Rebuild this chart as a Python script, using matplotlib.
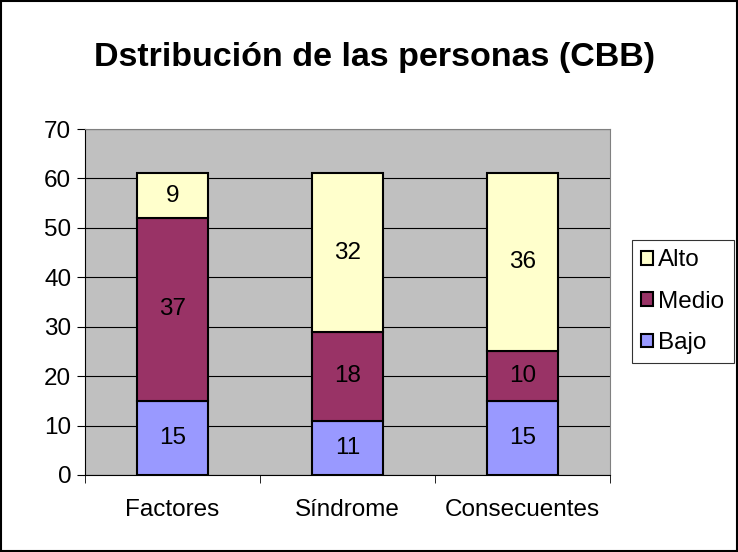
import matplotlib.pyplot as plt
from matplotlib.patches import Rectangle
import numpy as np

plt.rcParams['font.family'] = ['Liberation Sans', 'DejaVu Sans']

categorias = ['Factores', 'Síndrome', 'Consecuentes']
bajo = [15, 11, 15]
medio = [37, 18, 10]
alto = [9, 32, 36]
series = ['Bajo', 'Medio', 'Alto']
colores = ['#9999FF', '#993366', '#FFFFCC']

fig = plt.figure(figsize=(7.38, 5.52), dpi=100)
ax = fig.add_axes([0.1152, 0.1395, 0.7114, 0.6268])
ax.set_facecolor('#C0C0C0')

x = np.arange(len(categorias))
base = np.zeros(len(categorias))
barras = []
for nombre, vals, col in zip(series, [bajo, medio, alto], colores):
    b = ax.bar(x, vals, 0.41, bottom=base, color=col, edgecolor='black',
               linewidth=1.5, label=nombre, zorder=3)
    for xi, v, b0 in zip(x, vals, base):
        ax.text(xi, b0 + v / 2, str(v), ha='center', va='center',
                fontsize=17.5, zorder=4)
    base = base + np.array(vals)
    barras.append(b)

ax.set_xlim(-0.5, 2.5)
ax.set_ylim(0, 70)
ax.set_yticks(range(0, 71, 10))
ax.yaxis.grid(True, color='black', linewidth=0.8, zorder=0)
ax.tick_params(axis='y', direction='out', length=6, labelsize=17.5, pad=4)
ax.set_xticks(x)
ax.set_xticklabels(categorias, fontsize=17.5)
ax.tick_params(axis='x', length=0, pad=17)
ax.set_xticks([-0.5, 0.5, 1.5, 2.5], minor=True)
ax.tick_params(axis='x', which='minor', direction='out', length=6)

for s in ['top', 'right']:
    ax.spines[s].set_color('#808080')
for s in ['left', 'bottom']:
    ax.spines[s].set_color('black')

fig.text(0.508, 0.895, 'Dstribución de las personas (CBB)', ha='center',
         va='center', fontsize=24.5, fontweight='bold')

# leyenda con Alto arriba, como en el apilado
h = barras[::-1]
leg = fig.legend(h, [b.get_label() for b in h], loc='upper left',
                 bbox_to_anchor=(0.8564, 0.5652), fontsize=17.5, frameon=True,
                 fancybox=False, edgecolor='black', handlelength=0.5,
                 handleheight=0.5, handletextpad=0.2, labelspacing=0.8,
                 borderpad=0.38, borderaxespad=0)
leg.get_frame().set_linewidth(0.8)

fig.patches.append(Rectangle((0.002, 0.002), 0.996, 0.996,
                             transform=fig.transFigure, fill=False,
                             edgecolor='black', linewidth=1.5))

fig.savefig('out.png', dpi=100)
